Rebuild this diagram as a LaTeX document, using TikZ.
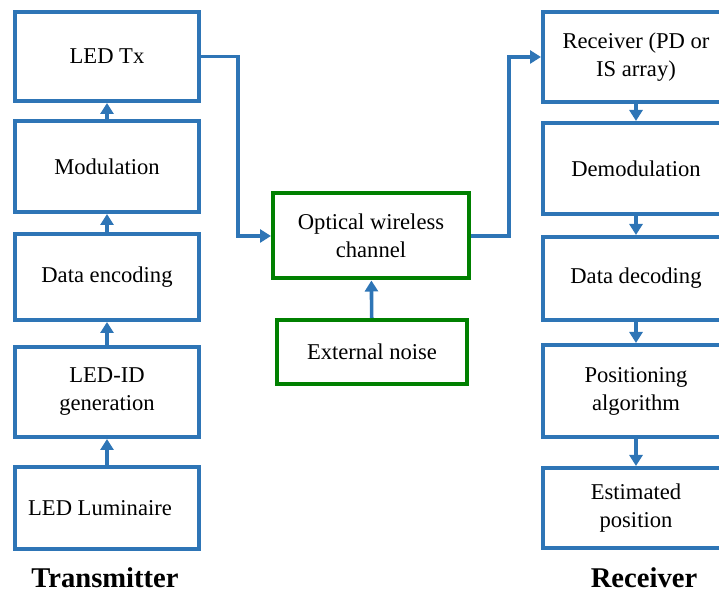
\documentclass[tikz,border=0pt]{standalone}
\usepackage{fontspec}
\setmainfont{Liberation Serif}
\usetikzlibrary{arrows.meta}
\definecolor{lineblue}{RGB}{46,117,182}
\definecolor{boxgreen}{RGB}{0,128,0}
\begin{document}
\begin{tikzpicture}[x=0.5pt,y=-0.5pt,
  blk/.style={draw=lineblue,line width=2pt,minimum width=92pt,align=center,
    inner sep=0pt,font=\fontsize{11.3}{14}\selectfont},
  gblk/.style={blk,draw=boxgreen},
  conn/.style={draw=lineblue,line width=1.8pt,-{Triangle[width=6.5pt,length=5.5pt]}},
  side/.style={font=\fontsize{14.3}{16}\selectfont\bfseries}]
\useasboundingbox (0,0) rectangle (719,592);
\clip (0,0) rectangle (719,592);
% transmitter
\node [blk,minimum height=44.5pt] (tx) at (107,56.5) {LED Tx};
\node [blk,minimum height=45.5pt] (mod) at (107,166.5) {Modulation};
\node [blk,minimum height=43pt] (enc) at (107,277) {Data encoding};
\node [blk,minimum height=45pt] (gen) at (107,392) {LED-ID\\generation};
\node [blk,minimum height=41pt] (lum) at (107,508) {LED Luminaire\hspace{7pt}};
\node [side] (txlab) at (105,578) {Transmitter};
% channel
\node [gblk,minimum width=98pt,minimum height=42.5pt] (och) at (371,236) {Optical wireless\\channel};
\node [gblk,minimum width=95pt,minimum height=32pt] (noise) at (372,352) {External noise};
% receiver
\node [blk,minimum width=93pt,minimum height=45pt] (rx) at (636,57) {Receiver (PD or\\IS array)};
\node [blk,minimum width=93pt,minimum height=45.5pt] (dem) at (636,168.5) {Demodulation};
\node [blk,minimum width=93pt,minimum height=41.5pt] (dec) at (636,278.5) {Data decoding};
\node [blk,minimum width=93pt,minimum height=46pt] (pos) at (636,391) {Positioning\\algorithm};
\node [blk,minimum width=93pt,minimum height=40pt] (est) at (636,508) {Estimated\\position};
\node [side] (rxlab) at (644,578) {Receiver};
% connectors
\draw [conn] (lum) -- (gen);
\draw [conn] (gen) -- (enc);
\draw [conn] (enc) -- (mod);
\draw [conn] (mod) -- (tx);
\draw [conn] (tx.east) -- ++(37,0) |- (och.west);
\draw [conn] (noise) -- (och);
\draw [conn] (och.east) -- ++(38,0) |- (rx.west);
\draw [conn] (rx) -- (dem);
\draw [conn] (dem) -- (dec);
\draw [conn] (dec) -- (pos);
\draw [conn] (pos) -- (est);
\end{tikzpicture}
\end{document}
